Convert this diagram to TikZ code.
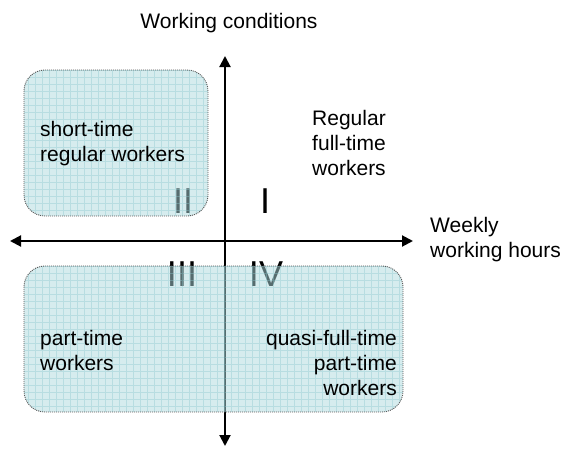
\documentclass[tikz,border=0pt]{standalone}
\usepackage{fontspec}
\setmainfont{Liberation Sans}
\usetikzlibrary{positioning, arrows.meta}

\definecolor{boxfill}{RGB}{173,217,221}
\definecolor{gridcol}{RGB}{140,200,206}

\tikzset{
  axis/.style={line width=2pt, {Triangle[length=11pt, width=11pt]}-{Triangle[length=11pt, width=11pt]}},
  label/.style={font=\fontsize{21}{25}\selectfont, inner sep=0pt},
  roman/.style={font=\fontsize{36}{36}\selectfont, inner sep=0pt, anchor=base},
  boxline/.style={gray!70!black, line width=0.9pt, dash pattern=on 1pt off 1pt, rounded corners=21pt},
  boxgrid/.style={gridcol, line width=0.5pt, opacity=0.4}
}

\begin{document}
\begin{tikzpicture}[x=1pt, y=-1pt]
    \useasboundingbox (0,0) rectangle (565,450);

    % end points of the axes
    \coordinate (top) at (225, 56);
    \coordinate (bottom) at (225, 446);
    \coordinate (left) at (10, 241);
    \coordinate (right) at (413, 241);

    % axes
    \draw[axis] (bottom) -- (top);
    \draw[axis] (left) -- (right);

    % quadrant numbers
    \node[roman] (q1) at (265, 213) {I};
    \node[roman] (q2) at (183, 213) {II};
    \node[roman] (q3) at (182, 286) {III};
    \node[roman] (q4) at (266, 286) {IV};

    % upper left box
    \begin{scope}
      \clip[rounded corners=21pt] (24, 70) rectangle (208, 216);
      \fill[boxfill, fill opacity=0.5] (24, 70) rectangle (208, 216);
      \draw[boxgrid, step=7pt] (24, 70) grid (208, 216);
    \end{scope}
    \draw[boxline] (24, 70) rectangle (208, 216);

    % lower box
    \begin{scope}
      \clip[rounded corners=21pt] (24, 266) rectangle (403, 412);
      \fill[boxfill, fill opacity=0.5] (24, 266) rectangle (403, 412);
      \draw[boxgrid, step=7pt] (24, 266) grid (403, 412);
    \end{scope}
    \draw[boxline] (24, 266) rectangle (403, 412);

    % axis titles
    \node[label] (ytitle) at (229, 23) {Working conditions};
    \node[label, anchor=west, align=left] (xtitle) at (430, 240) {Weekly\\working hours};

    % worker groups
    \node[label, align=center] (regular) at (349, 143) {Regular\\full-time\\workers};
    \node[label, anchor=west, align=left] (short) at (40, 144) {short-time\\regular workers};
    \node[label, anchor=west, align=left] (part) at (40, 350) {part-time\\workers};
    \node[label, anchor=east, align=right] (quasi) at (397, 363) {quasi-full-time\\part-time\\workers};
\end{tikzpicture}
\end{document}
